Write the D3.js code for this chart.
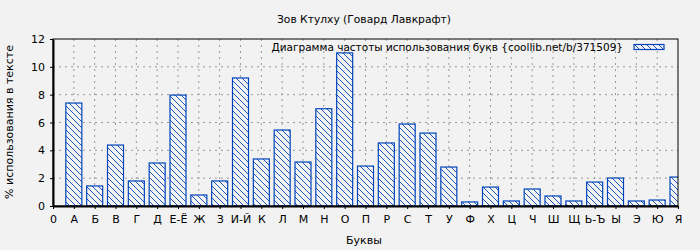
<!DOCTYPE html>
<html>
<head>
<meta charset="utf-8">
<script src="https://cdn.jsdelivr.net/npm/d3@7"></script>
<style>
  body { margin: 0; background: #f2f2f2; }
  text { font-family: "DejaVu Sans", sans-serif; fill: #000; }
</style>
</head>
<body>
<div id="chart-container"></div>
<script>
// letters, index 0 is only a tick label
const letters = ["0", "А", "Б", "В", "Г", "Д", "Е-Ё", "Ж", "З", "И-Й", "К", "Л", "М", "Н", "О",
  "П", "Р", "С", "Т", "У", "Ф", "Х", "Ц", "Ч", "Ш", "Щ", "Ь-Ъ", "Ы", "Э", "Ю", "Я"];
// percentage per letter (А..Я)
const percents = [7.4, 1.44, 4.38, 1.8, 3.09, 7.97, 0.79, 1.8, 9.2, 3.38, 5.46, 3.16, 6.99, 11.0,
  2.87, 4.53, 5.89, 5.24, 2.8, 0.29, 1.36, 0.36, 1.22, 0.72, 0.36, 1.72, 2.01, 0.36, 0.43, 2.08];
const yTicks = [0, 2, 4, 6, 8, 10, 12];

const title = "Зов Ктулху (Говард Лавкрафт)";
const legendText = "Диаграмма частоты использования букв {coollib.net/b/371509}";

const margin = { top: 39, right: 22, bottom: 44, left: 53 };
const width = 700 - margin.left - margin.right;
const height = 250 - margin.top - margin.bottom;

const svgRoot = d3
  .select("#chart-container")
  .append("svg")
  .attr("width", 700)
  .attr("height", 250);

svgRoot.append("rect").attr("width", 700).attr("height", 250).attr("fill", "#f2f2f2");

// hatch pattern
const defs = svgRoot.append("defs");
const pattern = defs
  .append("pattern")
  .attr("id", "hatch")
  .attr("patternUnits", "userSpaceOnUse")
  .attr("width", 6)
  .attr("height", 6);
pattern.append("rect").attr("width", 6).attr("height", 6).attr("fill", "#f4f4f4");
pattern
  .append("path")
  .attr("d", "M-1,-1 L7,7 M5,-1 L7,1 M-1,5 L1,7")
  .attr("stroke", "#0044bb")
  .attr("stroke-width", 0.9);

defs
  .append("clipPath")
  .attr("id", "plot-clip")
  .append("rect")
  .attr("width", width)
  .attr("height", height);

const svg = svgRoot
  .append("g")
  .attr("transform", "translate(" + margin.left + "," + margin.top + ")");

const xScale = d3.scaleLinear().domain([0, letters.length - 1]).range([0, width]);
const yScale = d3.scaleLinear().domain([0, 12]).range([height, 0]);

// grid
svg
  .append("g")
  .selectAll("line")
  .data(d3.range(1, letters.length - 1))
  .enter()
  .append("line")
  .attr("x1", d => xScale(d))
  .attr("x2", d => xScale(d))
  .attr("y1", 0)
  .attr("y2", height)
  .attr("stroke", "#999")
  .attr("stroke-dasharray", "2,4");

svg
  .append("g")
  .selectAll("line")
  .data(yTicks.slice(1, -1))
  .enter()
  .append("line")
  .attr("x1", 0)
  .attr("x2", width)
  .attr("y1", d => yScale(d))
  .attr("y2", d => yScale(d))
  .attr("stroke", "#999")
  .attr("stroke-dasharray", "2,4");

// bars
const barW = 16;
svg
  .append("g")
  .attr("clip-path", "url(#plot-clip)")
  .selectAll("rect")
  .data(percents)
  .enter()
  .append("rect")
  .attr("x", (d, i) => xScale(i + 1) - barW / 2)
  .attr("y", d => yScale(d))
  .attr("width", barW)
  .attr("height", d => height - yScale(d))
  .attr("fill", "url(#hatch)")
  .attr("stroke", "#0044bb")
  .attr("stroke-width", 1.2);

// frame
svg
  .append("rect")
  .attr("width", width)
  .attr("height", height)
  .attr("fill", "none")
  .attr("stroke", "#000")
  .attr("stroke-width", 1);

// axes
const xAxis = d3
  .axisBottom(xScale)
  .tickValues(d3.range(letters.length))
  .tickFormat(i => letters[i])
  .tickSizeInner(3)
  .tickSizeOuter(0)
  .tickPadding(6);
const yAxis = d3
  .axisLeft(yScale)
  .tickValues(yTicks)
  .tickSizeInner(3)
  .tickSizeOuter(0)
  .tickPadding(5);

const gx = svg.append("g").attr("transform", "translate(0," + height + ")").call(xAxis);
const gy = svg.append("g").call(yAxis);
[gx, gy].forEach(g => {
  g.select(".domain").attr("stroke", "#000").attr("stroke-width", 2);
  g.selectAll("text").attr("font-size", "11px").attr("font-family", "DejaVu Sans, sans-serif");
});

// legend
svg
  .append("text")
  .attr("x", 570)
  .attr("y", 12)
  .attr("text-anchor", "end")
  .attr("font-size", "10.5px")
  .text(legendText);
svg
  .append("rect")
  .attr("x", 581)
  .attr("y", 5.5)
  .attr("width", 30)
  .attr("height", 5)
  .attr("fill", "url(#hatch)")
  .attr("stroke", "#0044bb")
  .attr("stroke-width", 1.2);

// titles
svgRoot
  .append("text")
  .attr("x", 364)
  .attr("y", 23)
  .attr("text-anchor", "middle")
  .attr("font-size", "10.7px")
  .text(title);
svgRoot
  .append("text")
  .attr("x", 364)
  .attr("y", 244)
  .attr("text-anchor", "middle")
  .attr("font-size", "11px")
  .text("Буквы");
svgRoot
  .append("text")
  .attr("transform", "translate(13,122)rotate(-90)")
  .attr("text-anchor", "middle")
  .attr("font-size", "11px")
  .text("% использования в тексте");
</script>
</body>
</html>
